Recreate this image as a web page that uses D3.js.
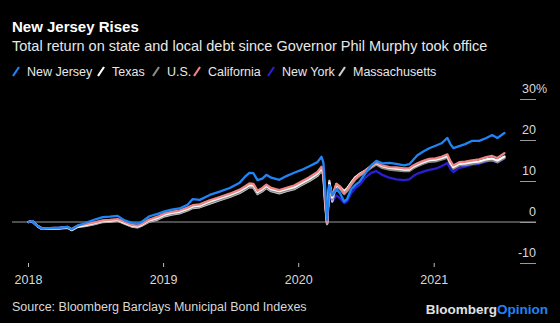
<!DOCTYPE html>
<html><head><meta charset="utf-8">
<script src="https://cdn.jsdelivr.net/npm/d3@7"></script>
<style>html,body{margin:0;padding:0;background:#000;}svg{display:block;}</style>
</head><body>
<script>
const dates = ["2018-01-02","2018-01-12","2018-01-27","2018-02-07","2018-02-28","2018-03-27","2018-04-18","2018-04-29","2018-05-15","2018-06-03",
"2018-06-30","2018-07-22","2018-08-10","2018-08-31","2018-09-19","2018-10-08","2018-10-24","2018-11-04","2018-11-25","2018-12-17",
"2019-01-05","2019-01-24","2019-02-14","2019-03-08","2019-03-22","2019-04-10","2019-05-07","2019-06-03","2019-06-30","2019-07-27",
"2019-08-12","2019-08-22","2019-09-02","2019-09-13","2019-09-26","2019-10-07","2019-10-20","2019-11-11","2019-11-30","2019-12-21",
"2020-01-10","2020-01-31","2020-02-22","2020-03-04","2020-03-09","2020-03-14","2020-03-19","2020-03-25","2020-04-02","2020-04-13",
"2020-04-23","2020-05-04","2020-05-12","2020-05-23","2020-06-03","2020-06-14","2020-06-30","2020-07-16","2020-07-30","2020-08-15",
"2020-09-03","2020-09-22","2020-10-13","2020-10-27","2020-11-07","2020-11-18","2020-12-04","2020-12-20","2021-01-06","2021-01-22",
"2021-02-07","2021-02-15","2021-02-23","2021-03-11","2021-03-27","2021-04-15","2021-05-04","2021-05-23","2021-06-08","2021-06-22","2021-07-11"];

const newJersey = [0,0.2,-1.0,-1.6,-1.5,-1.4,-1.2,-1.8,-0.9,-0.3,0.6,1.2,1.3,1.5,0.4,-0.2,-0.4,0.0,1.4,2.0,
2.6,3.0,3.3,4.2,5.6,5.4,6.6,7.4,8.3,9.6,11.2,12.0,11.9,10.2,10.6,11.5,10.8,10.3,11.2,12.0,
12.7,13.6,14.6,15.9,14.5,8.0,0.5,9.0,6.5,8.0,7.0,5.0,5.6,8.0,9.0,9.8,11.8,13.8,14.9,14.3,
14.4,14.2,13.8,14.1,15.2,16.3,17.2,18.0,18.6,19.2,20.5,19.0,18.0,18.5,19.0,19.8,19.8,20.5,21.2,20.5,21.7];
const texas = [0,0.2,-1.0,-1.6,-1.6,-1.5,-1.3,-1.9,-1.1,-0.8,-0.3,0.2,0.3,0.5,-0.2,-0.9,-1.1,-0.7,0.4,1.0,
1.8,2.2,2.5,3.2,3.8,4.0,5.0,5.8,6.6,7.6,8.4,9.0,8.9,7.3,8.0,8.8,8.0,7.5,8.0,8.5,
9.5,10.5,11.8,13.0,12.0,5.0,-0.3,9.5,6.0,9.0,8.5,7.3,8.0,9.5,10.8,11.6,12.5,13.6,14.4,13.6,
13.2,13.0,12.8,12.8,13.5,14.0,14.6,15.1,15.2,15.6,16.1,14.5,13.4,14.2,14.3,14.6,14.8,15.3,15.5,15.0,16.0];
const us = [0,0.2,-1.0,-1.6,-1.6,-1.5,-1.3,-1.9,-1.1,-0.9,-0.4,0.1,0.2,0.4,-0.3,-1.0,-1.2,-0.8,0.2,0.8,
1.6,2.0,2.3,3.0,3.6,3.8,4.7,5.5,6.3,7.3,8.1,8.7,8.6,7.0,7.7,8.5,7.7,7.2,7.7,8.2,
9.2,10.2,11.5,12.7,11.6,4.5,-0.5,8.5,5.5,8.6,8.0,6.8,7.5,9.0,10.3,11.2,12.1,13.2,14.0,13.2,
12.8,12.6,12.4,12.4,13.1,13.6,14.2,14.7,14.8,15.2,15.7,14.1,13.0,13.8,13.9,14.2,14.4,14.9,15.1,14.6,15.6];
const california = [0,0.2,-1.0,-1.5,-1.5,-1.4,-1.2,-1.7,-0.9,-0.6,-0.1,0.4,0.5,0.7,0.0,-0.7,-0.9,-0.5,0.6,1.3,
2.1,2.5,2.8,3.5,4.1,4.3,5.3,6.1,6.9,7.9,8.8,9.4,9.3,7.6,8.3,9.1,8.3,7.8,8.3,8.9,
9.9,10.9,12.2,13.5,12.4,5.5,-0.3,9.0,6.5,9.3,8.6,7.0,7.8,9.3,10.6,11.5,12.5,13.6,14.5,13.8,
13.4,13.3,13.1,13.1,13.8,14.3,14.9,15.4,15.5,15.9,16.5,14.9,13.8,14.6,14.7,15.0,15.3,15.8,16.1,15.6,16.8];
const newYork = [0,0.2,-1.0,-1.6,-1.6,-1.5,-1.3,-1.9,-1.0,-0.8,-0.3,0.3,0.4,0.6,-0.2,-0.9,-1.1,-0.7,0.3,0.9,
1.7,2.1,2.4,3.1,3.7,3.9,4.9,5.7,6.5,7.5,8.3,8.9,8.8,7.2,7.9,8.7,7.9,7.4,7.9,8.4,
9.4,10.4,11.7,12.9,11.8,5.0,-0.3,7.0,5.0,6.5,5.8,4.6,5.0,7.0,8.3,9.0,10.8,12.0,12.4,11.5,
10.8,10.4,10.2,10.4,11.2,11.8,12.3,12.7,13.0,13.6,14.4,13.0,12.2,13.2,13.5,14.0,14.2,14.8,15.0,14.5,15.5];
const massachusetts = [0,0.2,-1.1,-1.7,-1.7,-1.6,-1.4,-2.0,-1.2,-1.0,-0.5,0.0,0.1,0.3,-0.4,-1.1,-1.3,-0.9,0.1,0.6,
1.4,1.8,2.1,2.8,3.4,3.6,4.5,5.3,6.1,7.1,7.9,8.5,8.4,6.8,7.5,8.3,7.5,7.0,7.5,8.0,
9.0,10.0,11.3,12.5,11.4,4.0,-0.5,10.0,5.0,9.3,8.6,7.6,8.2,9.6,10.9,11.7,12.5,13.5,14.3,13.4,
13.0,12.8,12.6,12.6,13.3,13.8,14.4,14.9,15.0,15.4,15.9,14.3,13.2,14.0,14.1,14.4,14.6,15.1,15.3,14.8,15.8];

const seriesNames = ["New Jersey","Texas","U.S.","California","New York","Massachusetts"];
const seriesColors = ["#1f84f5","#ffffff","#8a8a8a","#ef8585","#2b1fd2","#cdcdcd"];
const yTicks = [-10,0,10,20,30];
const yTickLabels = ["-10","0","10","20","30%"];
const xTickYears = ["2018","2019","2020","2021"];

const W = 560, H = 323;
const parse = d3.timeParse("%Y-%m-%d");
const seriesData = [newJersey, texas, us, california, newYork, massachusetts];

const svg = d3.select("body").append("svg").attr("width", W).attr("height", H)
  .style("background", "#000").style("font-family", "'Liberation Sans', Arial, sans-serif");

const x = d3.scaleTime().domain([parse("2018-01-01"), parse("2021-01-01")]).range([28, 433.7]);
const y = d3.scaleLinear().domain([-10, 30]).range([263, 99]);

// title
svg.append("text").attr("x", 12).attr("y", 32).attr("fill", "#fff")
  .attr("font-size", 15).attr("font-weight", "bold").text("New Jersey Rises");
svg.append("text").attr("x", 12).attr("y", 50.5).attr("fill", "#e8e8e8")
  .attr("font-size", 14.5).text("Total return on state and local debt since Governor Phil Murphy took office");

// legend
const legendX = [12, 97, 152, 193, 267, 338];
const lg = svg.append("g");
seriesNames.forEach((n, i) => {
  const g = lg.append("g").attr("transform", `translate(${legendX[i]},0)`);
  g.append("line").attr("x1", 1).attr("y1", 76).attr("x2", 7).attr("y2", 67)
    .attr("stroke", seriesColors[i]).attr("stroke-width", 2.2);
  g.append("text").attr("x", 15).attr("y", 75.5).attr("fill", "#e8e8e8")
    .attr("font-size", 12.5).text(n);
});

// y axis (right, labels above tick lines)
const yAxis = d3.axisRight(y).tickValues(yTicks).tickSize(16).tickFormat("");
const ya = svg.append("g").attr("transform", "translate(520,0)").call(yAxis);
ya.select(".domain").remove();
ya.selectAll(".tick line").attr("stroke", "#9a9a9a").attr("stroke-width", 1);
ya.selectAll(".tick").each(function(d, i) {
  const t = d3.select(this);
  const lab = yTickLabels[yTicks.indexOf(d)];
  const txt = t.append("text").attr("x", 16).attr("y", -7).attr("fill", "#d8d8d8")
    .attr("font-size", 12.5).attr("text-anchor", "end").text(lab.replace("%", ""));
  if (lab.endsWith("%")) {
    t.append("text").attr("x", 16).attr("y", -7).attr("fill", "#d8d8d8")
      .attr("font-size", 12.5).attr("text-anchor", "start").text("%");
  }
});
// zero line
svg.append("line").attr("x1", 12).attr("x2", 536).attr("y1", y(0)).attr("y2", y(0))
  .attr("stroke", "#9a9a9a").attr("stroke-width", 1.2);

// x axis
const xAxis = d3.axisBottom(x).tickValues(xTickYears.map(s => parse(s + "-01-01")))
  .tickSize(4).tickFormat(d3.timeFormat("%Y"));
const xa = svg.append("g").attr("transform", "translate(0,263)").call(xAxis);
xa.select(".domain").remove();
xa.selectAll(".tick line").attr("stroke", "#bbb");
xa.selectAll(".tick text").attr("fill", "#d8d8d8").attr("font-size", 12.5)
  .attr("font-family", "'Liberation Sans', Arial, sans-serif").attr("y", 12).attr("dy", "0.71em");

// lines
const line = d3.line().x((d, i) => x(parse(dates[i]))).y(d => y(d)).curve(d3.curveLinear);
const drawOrder = [4, 5, 2, 1, 3, 0];
drawOrder.forEach(i => {
  svg.append("path").datum(seriesData[i]).attr("d", line)
    .attr("fill", "none").attr("stroke", seriesColors[i]).attr("stroke-width", 2.3)
    .attr("stroke-linejoin", "round").attr("stroke-linecap", "round");
});

// footer
svg.append("text").attr("x", 12).attr("y", 311).attr("fill", "#d8d8d8")
  .attr("font-size", 12.5).text("Source: Bloomberg Barclays Municipal Bond Indexes");
const brand = svg.append("text").attr("x", 548).attr("y", 314).attr("text-anchor", "end")
  .attr("font-size", 13.5).attr("font-weight", "bold");
brand.append("tspan").attr("fill", "#e0e0e0").text("Bloomberg");
brand.append("tspan").attr("fill", "#1f84f5").text("Opinion");
</script>
</body></html>
